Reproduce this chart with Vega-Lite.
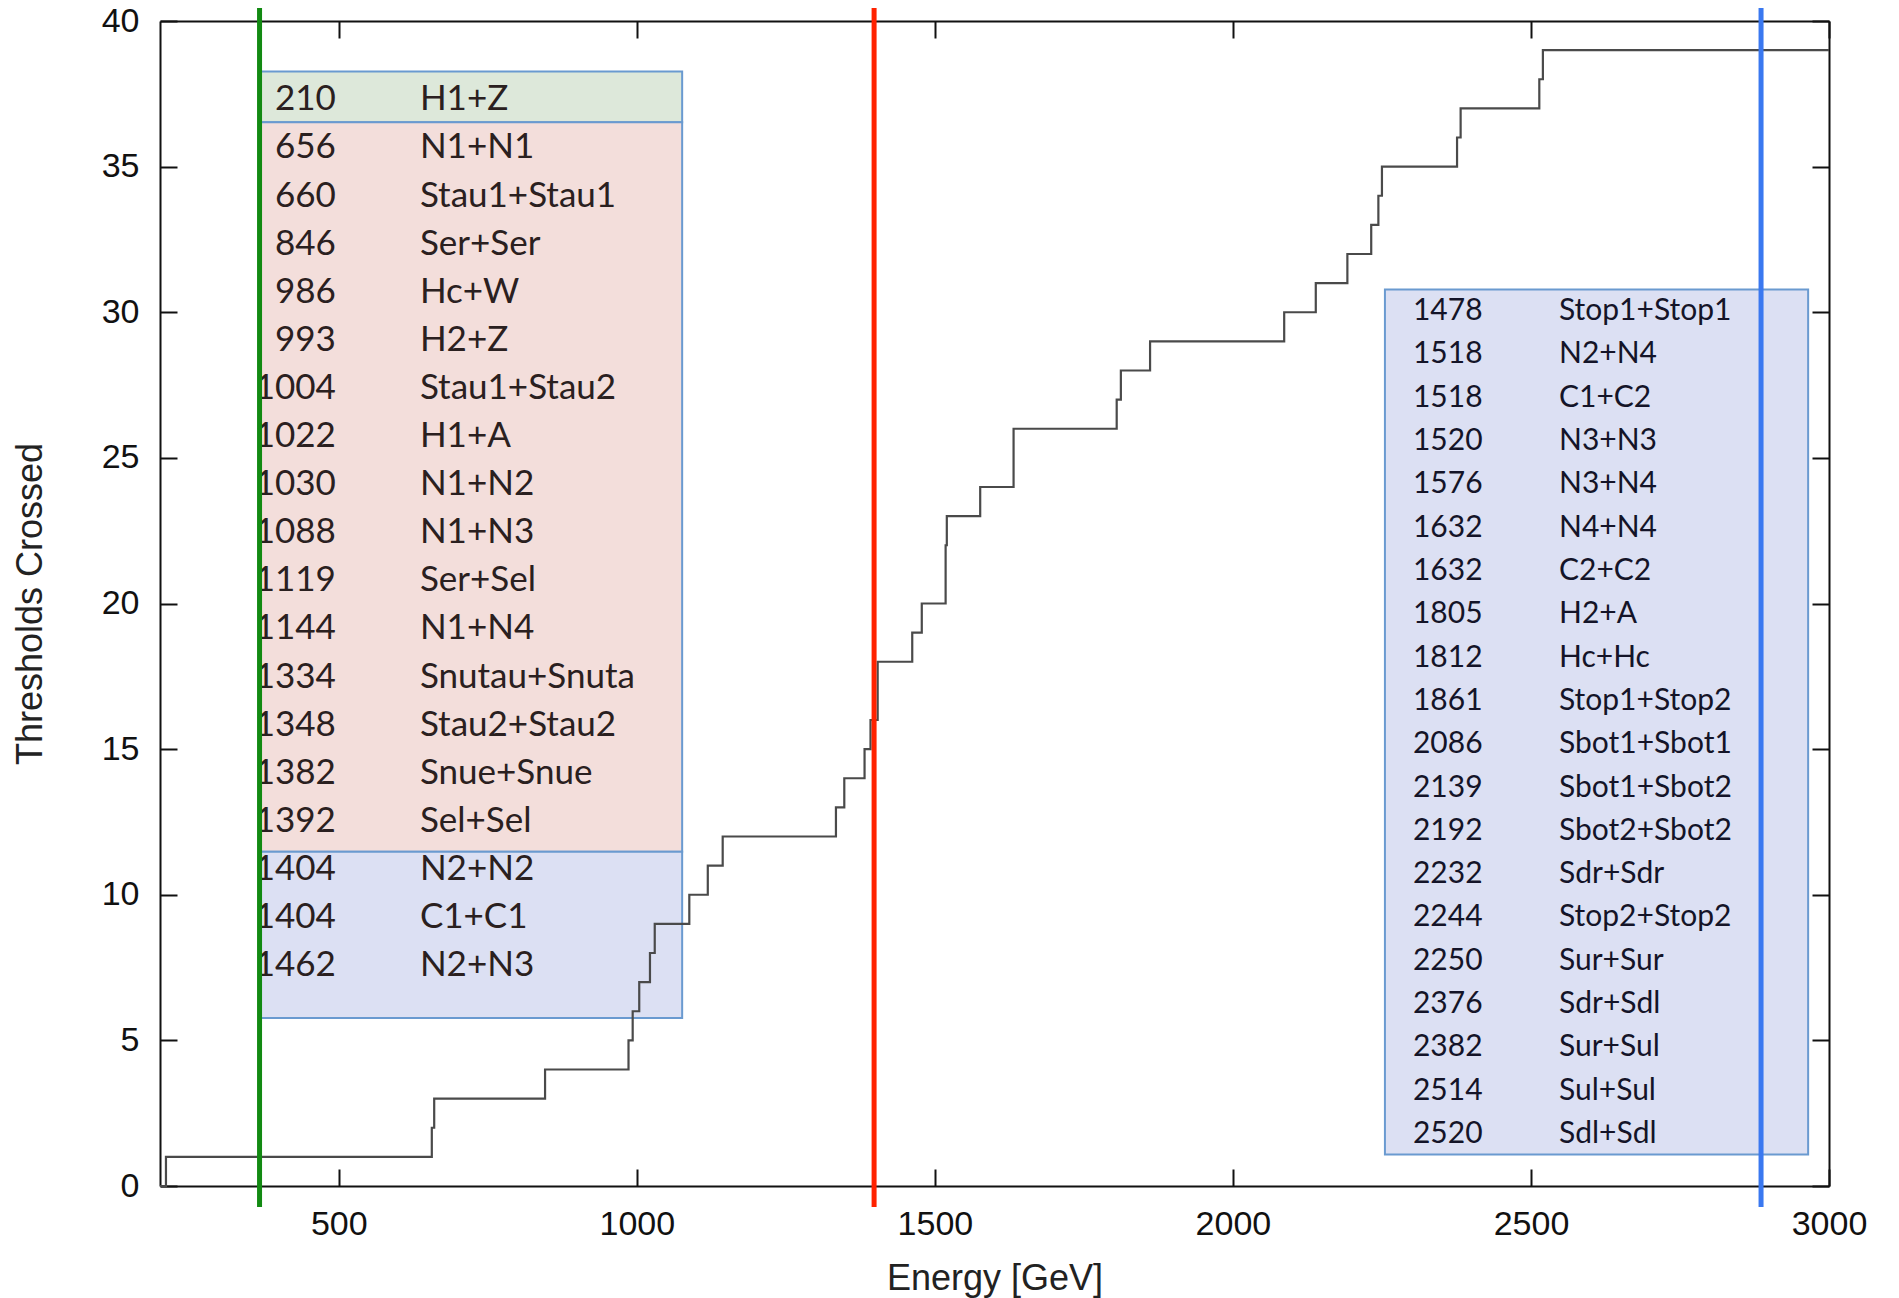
{
  "$schema": "https://vega.github.io/schema/vega-lite/v6.json",
  "width": 1669,
  "height": 1165,
  "autosize": {"type": "none"},
  "padding": {"left": 160, "top": 21, "right": 70, "bottom": 112},
  "background": "white",
  "config": {
    "view": {"stroke": null},
    "axis": {
      "domainColor": "#111",
      "domainWidth": 2,
      "tickColor": "#111",
      "tickWidth": 2,
      "tickSize": -17,
      "labelFont": "Liberation Sans",
      "labelFontSize": 34,
      "labelColor": "#111",
      "labelPadding": 38,
      "labelFlush": false,
      "labelOverlap": false,
      "titleFont": "Liberation Sans",
      "titleFontSize": 36,
      "titleFontWeight": "normal",
      "titleColor": "#222",
      "grid": false
    }
  },
  "datasets": {
    "thresholds": [
      {"energy": 200, "count": 0, "process": null, "table": "none", "row": null},
      {"energy": 210, "count": 1, "process": "H1+Z", "table": "left", "row": 1},
      {"energy": 656, "count": 2, "process": "N1+N1", "table": "left", "row": 2},
      {"energy": 660, "count": 3, "process": "Stau1+Stau1", "table": "left", "row": 3},
      {"energy": 846, "count": 4, "process": "Ser+Ser", "table": "left", "row": 4},
      {"energy": 986, "count": 5, "process": "Hc+W", "table": "left", "row": 5},
      {"energy": 993, "count": 6, "process": "H2+Z", "table": "left", "row": 6},
      {"energy": 1004, "count": 7, "process": "Stau1+Stau2", "table": "left", "row": 7},
      {"energy": 1022, "count": 8, "process": "H1+A", "table": "left", "row": 8},
      {"energy": 1030, "count": 9, "process": "N1+N2", "table": "left", "row": 9},
      {"energy": 1088, "count": 10, "process": "N1+N3", "table": "left", "row": 10},
      {"energy": 1119, "count": 11, "process": "Ser+Sel", "table": "left", "row": 11},
      {"energy": 1144, "count": 12, "process": "N1+N4", "table": "left", "row": 12},
      {"energy": 1334, "count": 13, "process": "Snutau+Snuta", "table": "left", "row": 13},
      {"energy": 1348, "count": 14, "process": "Stau2+Stau2", "table": "left", "row": 14},
      {"energy": 1382, "count": 15, "process": "Snue+Snue", "table": "left", "row": 15},
      {"energy": 1392, "count": 16, "process": "Sel+Sel", "table": "left", "row": 16},
      {"energy": 1404, "count": 17, "process": "N2+N2", "table": "left", "row": 17},
      {"energy": 1404, "count": 18, "process": "C1+C1", "table": "left", "row": 18},
      {"energy": 1462, "count": 19, "process": "N2+N3", "table": "left", "row": 19},
      {"energy": 1478, "count": 20, "process": "Stop1+Stop1", "table": "right", "row": 1},
      {"energy": 1518, "count": 21, "process": "N2+N4", "table": "right", "row": 2},
      {"energy": 1518, "count": 22, "process": "C1+C2", "table": "right", "row": 3},
      {"energy": 1520, "count": 23, "process": "N3+N3", "table": "right", "row": 4},
      {"energy": 1576, "count": 24, "process": "N3+N4", "table": "right", "row": 5},
      {"energy": 1632, "count": 25, "process": "N4+N4", "table": "right", "row": 6},
      {"energy": 1632, "count": 26, "process": "C2+C2", "table": "right", "row": 7},
      {"energy": 1805, "count": 27, "process": "H2+A", "table": "right", "row": 8},
      {"energy": 1812, "count": 28, "process": "Hc+Hc", "table": "right", "row": 9},
      {"energy": 1861, "count": 29, "process": "Stop1+Stop2", "table": "right", "row": 10},
      {"energy": 2086, "count": 30, "process": "Sbot1+Sbot1", "table": "right", "row": 11},
      {"energy": 2139, "count": 31, "process": "Sbot1+Sbot2", "table": "right", "row": 12},
      {"energy": 2192, "count": 32, "process": "Sbot2+Sbot2", "table": "right", "row": 13},
      {"energy": 2232, "count": 33, "process": "Sdr+Sdr", "table": "right", "row": 14},
      {"energy": 2244, "count": 34, "process": "Stop2+Stop2", "table": "right", "row": 15},
      {"energy": 2250, "count": 35, "process": "Sur+Sur", "table": "right", "row": 16},
      {"energy": 2376, "count": 36, "process": "Sdr+Sdl", "table": "right", "row": 17},
      {"energy": 2382, "count": 37, "process": "Sur+Sul", "table": "right", "row": 18},
      {"energy": 2514, "count": 38, "process": "Sul+Sul", "table": "right", "row": 19},
      {"energy": 2520, "count": 39, "process": "Sdl+Sdl", "table": "right", "row": 20},
      {"energy": 3000, "count": 39, "process": null, "table": "none", "row": null}
    ],
    "stages": [
      {"energy": 367, "stage": "stage 1"},
      {"energy": 1398, "stage": "stage 2"},
      {"energy": 2886, "stage": "stage 3"}
    ]
  },
  "data": {"name": "thresholds"},
  "layer": [
    {
      "layer": [
        {
          "data": {"values": [{}]},
          "mark": {"type": "rect", "fill": "#dde8da", "stroke": "#6a9ad0", "strokeWidth": 2},
          "encoding": {
            "x": {"datum": 367, "type": "quantitative", "axis": null},
            "x2": {"datum": 1076},
            "y": {"datum": 0.42, "type": "quantitative", "axis": null, "scale": {"domain": [-0.628, 23.59], "reverse": true, "nice": false, "zero": false}},
            "y2": {"datum": 1.478}
          }
        },
        {
          "data": {"values": [{}]},
          "mark": {"type": "rect", "fill": "#f3dedb", "stroke": "#6a9ad0", "strokeWidth": 2},
          "encoding": {
            "x": {"datum": 367, "type": "quantitative", "axis": null},
            "x2": {"datum": 1076},
            "y": {"datum": 1.478, "type": "quantitative", "axis": null},
            "y2": {"datum": 16.64}
          }
        },
        {
          "data": {"values": [{}]},
          "mark": {"type": "rect", "fill": "#dce0f3", "stroke": "#6a9ad0", "strokeWidth": 2},
          "encoding": {
            "x": {"datum": 367, "type": "quantitative", "axis": null},
            "x2": {"datum": 1076},
            "y": {"datum": 16.64, "type": "quantitative", "axis": null},
            "y2": {"datum": 20.1}
          }
        },
        {
          "transform": [{"filter": "datum.table === 'left'"}],
          "mark": {"type": "text", "align": "right", "baseline": "middle", "font": "Lato", "fontSize": 35, "color": "#2a2020"},
          "encoding": {
            "x": {"datum": 495, "type": "quantitative", "axis": null},
            "y": {"field": "row", "type": "quantitative", "axis": null},
            "text": {"field": "energy", "type": "quantitative", "format": "d"}
          }
        },
        {
          "transform": [{"filter": "datum.table === 'left'"}],
          "mark": {"type": "text", "align": "left", "baseline": "middle", "font": "Lato", "fontSize": 35, "color": "#2a2020"},
          "encoding": {
            "x": {"datum": 636, "type": "quantitative", "axis": null},
            "y": {"field": "row", "type": "quantitative", "axis": null},
            "text": {"field": "process", "type": "nominal"}
          }
        }
      ]
    },
    {
      "layer": [
        {
          "data": {"values": [{}]},
          "mark": {"type": "rect", "fill": "#dce0f3", "stroke": "#6a9ad0", "strokeWidth": 2},
          "encoding": {
            "x": {"datum": 2255, "type": "quantitative", "axis": null},
            "x2": {"datum": 2965},
            "y": {"datum": 0.5, "type": "quantitative", "axis": null, "scale": {"domain": [-5.70, 21.2], "reverse": true, "nice": false, "zero": false}},
            "y2": {"datum": 20.47}
          }
        },
        {
          "transform": [{"filter": "datum.table === 'right'"}],
          "mark": {"type": "text", "align": "left", "baseline": "middle", "font": "Lato", "fontSize": 30, "color": "#141428"},
          "encoding": {
            "x": {"datum": 2302, "type": "quantitative", "axis": null},
            "y": {"field": "row", "type": "quantitative", "axis": null},
            "text": {"field": "energy", "type": "quantitative", "format": "d"}
          }
        },
        {
          "transform": [{"filter": "datum.table === 'right'"}],
          "mark": {"type": "text", "align": "left", "baseline": "middle", "font": "Lato", "fontSize": 30, "color": "#141428"},
          "encoding": {
            "x": {"datum": 2547, "type": "quantitative", "axis": null},
            "y": {"field": "row", "type": "quantitative", "axis": null},
            "text": {"field": "process", "type": "nominal"}
          }
        }
      ]
    },
    {
      "layer": [
        {
          "mark": {"type": "line", "interpolate": "step-after", "color": "#4a4a4a", "strokeWidth": 2.2},
          "encoding": {
            "x": {
              "field": "energy", "type": "quantitative",
              "scale": {"domain": [200, 3000], "nice": false, "zero": false},
              "axis": {"orient": "bottom", "title": "Energy [GeV]", "values": [500, 1000, 1500, 2000, 2500, 3000], "format": "d", "titlePadding": 20}
            },
            "y": {
              "field": "count", "type": "quantitative",
              "scale": {"domain": [0, 40], "nice": false, "zero": true},
              "axis": {"orient": "left", "title": "Thresholds Crossed", "values": [0, 5, 10, 15, 20, 25, 30, 35, 40], "format": "d", "titlePadding": 52}
            },
            "order": {"field": "count", "type": "quantitative"}
          }
        },
        {
          "data": {"name": "stages"},
          "mark": {"type": "rule", "strokeWidth": 5, "clip": false},
          "encoding": {
            "x": {
              "field": "energy", "type": "quantitative",
              "axis": {"orient": "top", "title": null, "labels": false, "values": [500, 1000, 1500, 2000, 2500, 3000]}
            },
            "y": {
              "datum": -0.72, "type": "quantitative",
              "axis": {"orient": "right", "title": null, "labels": false, "values": [0, 5, 10, 15, 20, 25, 30, 35, 40]}
            },
            "y2": {"datum": 40.45},
            "color": {
              "field": "stage", "type": "nominal",
              "scale": {"domain": ["stage 1", "stage 2", "stage 3"], "range": ["#128a12", "#ff2200", "#3a78f0"]},
              "legend": null
            }
          }
        }
      ],
      "resolve": {"axis": {"x": "independent", "y": "independent"}}
    }
  ],
  "resolve": {"scale": {"y": "independent"}}
}
